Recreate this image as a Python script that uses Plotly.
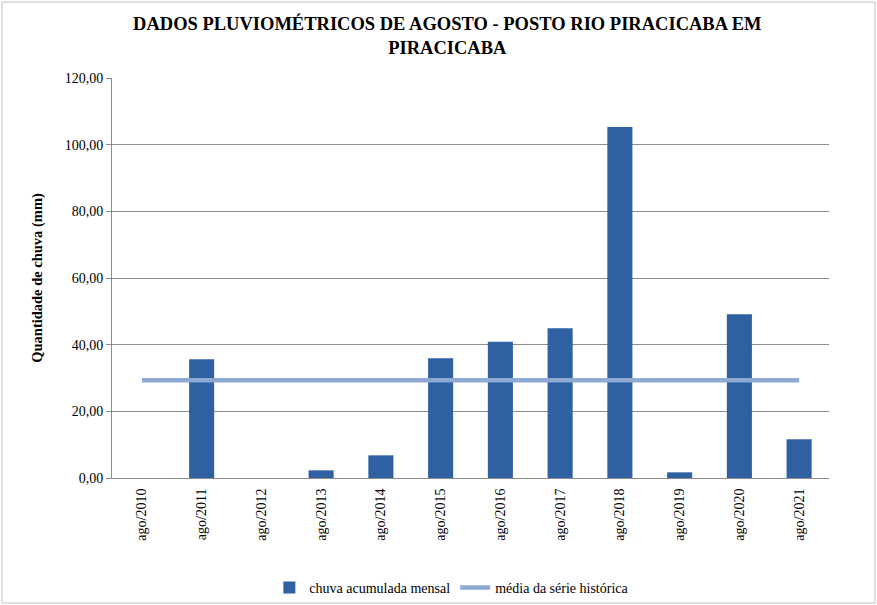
import plotly.graph_objects as go

categories = ["ago/2010", "ago/2011", "ago/2012", "ago/2013", "ago/2014", "ago/2015",
              "ago/2016", "ago/2017", "ago/2018", "ago/2019", "ago/2020", "ago/2021"]
chuva = [0, 35.6, 0, 2.3, 6.8, 35.9, 40.9, 44.9, 105.3, 1.7, 49.1, 11.6]
media_valor = 29.35
media = [media_valor] * len(categories)

serif = "Liberation Serif"

fig = go.Figure()
fig.add_trace(go.Bar(
    x=categories, y=chuva, name="chuva acumulada mensal",
    marker=dict(color="#2f61a2", line=dict(width=0)),
    width=0.42,
))
fig.add_trace(go.Scatter(
    x=categories, y=media, name="média da série histórica",
    mode="lines", line=dict(color="#8eaad3", width=4.5),
))

fig.update_layout(
    width=877, height=605,
    paper_bgcolor="white", plot_bgcolor="white",
    separators=",.",
    margin=dict(l=112, r=48, t=78, b=127, autoexpand=False),
    title=dict(
        text="DADOS PLUVIOMÉTRICOS DE AGOSTO - POSTO RIO PIRACICABA EM<br>PIRACICABA",
        x=0.51, xanchor="center", y=0.950, yanchor="top",
        font=dict(family=serif, size=18.5, color="black", weight="bold"),
    ),
    font=dict(family=serif, size=14, color="black"),
    showlegend=True,
    legend=dict(orientation="h", x=0.474, xanchor="center", y=-0.235, yanchor="top",
                font=dict(family=serif, size=14), traceorder="normal",
                bgcolor="rgba(0,0,0,0)", itemwidth=30),
    shapes=[dict(type="rect", xref="paper", yref="paper",
                 x0=-110/717, x1=1+46/717, y0=-125/400, y1=1+76/400,
                 line=dict(color="#bfbfbf", width=1), fillcolor="rgba(0,0,0,0)", layer="below")],
)
fig.update_yaxes(
    range=[0, 120], dtick=20, tickformat=".2f", automargin=False,
    showgrid=True, gridcolor="#8c8c8c", gridwidth=1,
    showline=True, linecolor="#8c8c8c", linewidth=1,
    ticks="outside", ticklen=5, tickcolor="#8c8c8c",
    zeroline=False,
    title=dict(text="Quantidade de chuva (mm)", font=dict(family=serif, size=14.5, weight="bold"), standoff=18),
    tickfont=dict(family=serif, size=14),
)
fig.update_xaxes(
    tickangle=-90, showline=True, linecolor="#8c8c8c", linewidth=1, automargin=False,
    showgrid=False, tickfont=dict(family=serif, size=14),
    ticks="", ticklabelstandoff=4,
)

fig.write_html("out.html", config={"displayModeBar": False},
               post_script="document.body.style.margin='0';document.body.style.overflow='hidden';")
